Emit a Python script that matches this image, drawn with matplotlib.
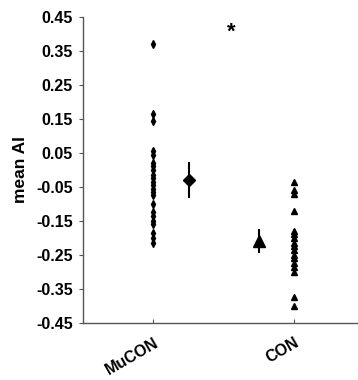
import numpy as np
import matplotlib as mpl
mpl.use('Agg')
import matplotlib.pyplot as plt

plt.rcParams['font.family'] = ['Liberation Sans', 'DejaVu Sans']
plt.rcParams['font.weight'] = 'bold'

groups = ['MuCON', 'CON']

# individual subject values
mucon_ai = [0.37, 0.165, 0.145, 0.055, 0.045, 0.02, 0.01, 0.0, -0.015, -0.025,
            -0.035, -0.045, -0.055, -0.065, -0.075, -0.10, -0.125, -0.135,
            -0.15, -0.16, -0.185, -0.20, -0.215]
con_ai = [-0.035, -0.06, -0.07, -0.12, -0.18, -0.19, -0.20, -0.215, -0.225,
          -0.235, -0.25, -0.26, -0.275, -0.285, -0.30, -0.375, -0.40]

# group means with error bars
group_mean = [-0.03, -0.21]
group_err = [0.053, 0.036]

yticks = [-0.45, -0.35, -0.25, -0.15, -0.05, 0.05, 0.15, 0.25, 0.35, 0.45]

fig = plt.figure(figsize=(3.58, 3.80), dpi=100)
ax = fig.add_axes([0.231, 0.151, 0.769, 0.804])

# raw points
ax.plot(np.full(len(mucon_ai), 1.0), mucon_ai, 'd', color='black', markersize=4)
ax.plot(np.full(len(con_ai), 2.0), con_ai, '^', color='black', markersize=3.8)

# means +- error
ax.errorbar(1.25, group_mean[0], yerr=group_err[0], fmt='D', color='black',
            markersize=6.5, elinewidth=1.5, capsize=0)
ax.errorbar(1.75, group_mean[1], yerr=group_err[1], fmt='^', color='black',
            markersize=9, elinewidth=1.5, capsize=0)

ax.text(1.55, 0.405, '*', fontsize=16, ha='center', va='center')

ax.set_xlim(0.5, 2.45)
ax.set_ylim(-0.45, 0.45)
ax.set_yticks(yticks)
ax.set_yticklabels([f'{t:.2f}' for t in yticks], fontsize=11.5, fontweight='bold')
ax.set_xticks([1, 2])
ax.set_xticklabels(groups, fontsize=11.5, fontweight='bold', rotation=30,
                   ha='right', va='top', rotation_mode='anchor')
ax.set_ylabel('mean AI', fontsize=12.5, fontweight='bold', labelpad=6)

for s in ['top', 'right']:
    ax.spines[s].set_visible(False)
for s in ['left', 'bottom']:
    ax.spines[s].set_color('#555555')
    ax.spines[s].set_linewidth(1.0)
ax.tick_params(axis='y', direction='out', length=3, color='#555555', pad=4)
ax.tick_params(axis='x', direction='in', length=3, color='#555555', pad=9)

fig.savefig('out.png', dpi=100)
